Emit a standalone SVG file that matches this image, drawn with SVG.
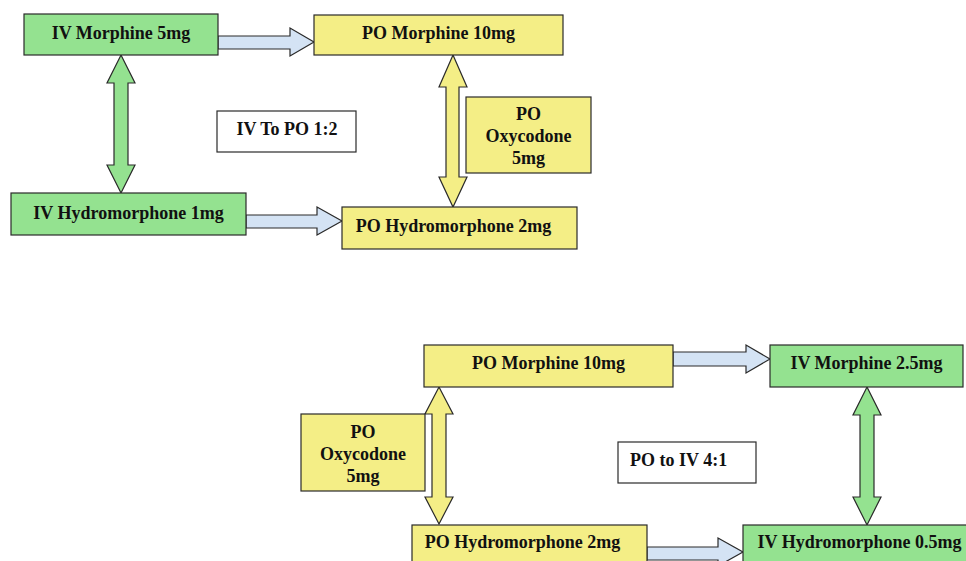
<svg xmlns="http://www.w3.org/2000/svg" width="966" height="561" viewBox="0 0 966 561">
<style>
.g{fill:#94e290;stroke:#2a2a2a;stroke-width:1.2}
.y{fill:#f4ee86;stroke:#2a2a2a;stroke-width:1.2}
.w{fill:#ffffff;stroke:#2a2a2a;stroke-width:1.2}
.b{fill:#d4e3f4;stroke:#2a2a2a;stroke-width:1.2}
text{font-family:"Liberation Serif","Times New Roman",serif;font-weight:bold;font-size:18px;fill:#111;text-anchor:middle}
</style>
<rect width="966" height="561" fill="#ffffff"/>
<g id="connectors">
<polygon class="b" points="218,36 290,36 290,28 314,42 290,56 290,49 218,49"/>
<polygon class="b" points="246,215 317,215 317,207 342,221 317,235 317,228 246,228"/>
<polygon class="b" points="673,352 746,352 746,345 770,359 746,373 746,366 673,366"/>
<polygon class="b" points="647,547 718,547 718,538 743,552 718,566 718,560 647,560"/>
<polygon class="g" points="121,55 135,83 128,83 128,165 135,165 121,193 107,165 114,165 114,83 107,83"/>
<polygon class="y" points="453,55 467,87 459,87 459,177 467,177 453,207 439,177 446,177 446,87 439,87"/>
<polygon class="y" points="439,387 453,414 446,414 446,497 453,497 439,524 425,497 432,497 432,414 425,414"/>
<polygon class="g" points="867,387 881,415 874,415 874,497 881,497 867,525 853,497 860,497 860,415 853,415"/>
</g>
<g id="iv-morphine-5"><rect class="g" x="24" y="14" width="194" height="41"/><text x="121" y="39">IV Morphine 5mg</text></g>
<g id="po-morphine-10-top"><rect class="y" x="314" y="15" width="249" height="40"/><text x="438.5" y="39">PO Morphine 10mg</text></g>
<g id="iv-to-po"><rect class="w" x="217" y="111" width="139" height="41"/><text x="287" y="135">IV To PO 1:2</text></g>
<g id="po-oxycodone-top"><rect class="y" x="466" y="97" width="125" height="76"/><text x="528.5" y="120">PO</text><text x="528.5" y="142">Oxycodone</text><text x="528.5" y="164">5mg</text></g>
<g id="iv-hydromorphone-1"><rect class="g" x="11" y="193" width="235" height="42"/><text x="128.5" y="219">IV Hydromorphone 1mg</text></g>
<g id="po-hydromorphone-2-top"><rect class="y" x="342" y="207" width="235" height="42"/><text x="453.5" y="232">PO Hydromorphone 2mg</text></g>
<g id="po-morphine-10-bottom"><rect class="y" x="424" y="345" width="249" height="42"/><text x="548.5" y="369">PO Morphine 10mg</text></g>
<g id="iv-morphine-2-5"><rect class="g" x="770" y="345" width="193" height="42"/><text x="866.5" y="369">IV Morphine 2.5mg</text></g>
<g id="po-oxycodone-bottom"><rect class="y" x="301" y="414" width="124" height="77"/><text x="363" y="438">PO</text><text x="363" y="460">Oxycodone</text><text x="363" y="482">5mg</text></g>
<g id="po-to-iv"><rect class="w" x="618" y="442" width="138" height="41"/><text x="630" y="466" style="text-anchor:start">PO to IV 4:1</text></g>
<g id="po-hydromorphone-2-bottom"><rect class="y" x="412" y="525" width="235" height="45"/><text x="522.5" y="548">PO Hydromorphone 2mg</text></g>
<g id="iv-hydromorphone-0-5"><rect class="g" x="743" y="525" width="232" height="45"/><text x="859.5" y="548">IV Hydromorphone 0.5mg</text></g>
</svg>
